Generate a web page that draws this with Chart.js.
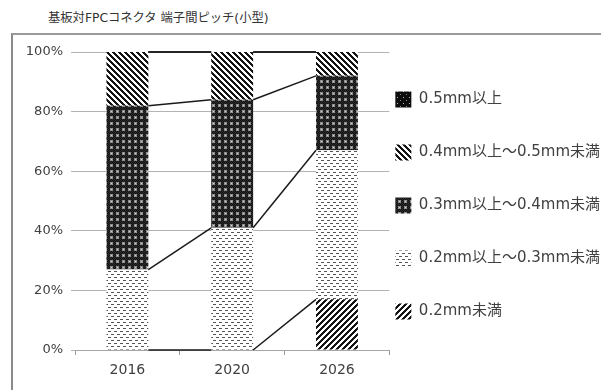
<!DOCTYPE html>
<html>
<head>
<meta charset="utf-8">
<script src="https://cdn.jsdelivr.net/npm/chart.js@4/dist/chart.umd.min.js"></script>
<style>
  html, body { margin: 0; padding: 0; background: #fff; overflow: hidden; }
  #wrap { position: relative; width: 601px; height: 390px; }
  #frame { position: absolute; left: 11px; top: 33px; width: 620px; height: 400px;
           border-left: 2px solid #8a8a8a; border-top: 2px solid #9a9a9a; }
  #title { position: absolute; left: 48px; top: 8px; font: 12.3px "DejaVu Sans", "Noto Sans CJK JP", sans-serif; color: #333; }
  canvas { position: absolute; left: 0; top: 0; }
</style>
</head>
<body>
<div id="wrap">
  <div id="frame"></div>
  <div id="title">基板対FPCコネクタ 端子間ピッチ(小型)</div>
  <canvas id="c" width="601" height="390"></canvas>
</div>
<script>
// data (percent share per year)
const years = ['2016', '2020', '2026'];
const seriesNames = ['0.2mm未満', '0.2mm以上～0.3mm未満', '0.3mm以上～0.4mm未満', '0.4mm以上～0.5mm未満', '0.5mm以上'];
const under02 = [0, 0, 17];
const from02to03 = [27, 41, 50];
const from03to04 = [55, 43, 25];
const from04to05 = [18, 16, 8];
const over05 = [0, 0, 0];
const yTicks = [0, 20, 40, 60, 80, 100];

const ctx = document.getElementById('c').getContext('2d');

function tile(w, h, draw) {
  const c = document.createElement('canvas');
  c.width = w; c.height = h;
  const g = c.getContext('2d');
  draw(g);
  return ctx.createPattern(c, 'repeat');
}
function px(g, x, y, col) { g.fillStyle = col; g.fillRect(x, y, 1, 1); }

// "///"
const patUp = tile(6, 6, g => {
  g.fillStyle = '#fff'; g.fillRect(0, 0, 6, 6);
  for (let y = 0; y < 6; y++) for (let x = 0; x < 6; x++)
    if ((x + y) % 6 < 3) px(g, x, y, '#141414');
});
// light dashes
const patDash = tile(6, 6, g => {
  g.fillStyle = '#fff'; g.fillRect(0, 0, 6, 6);
  g.fillStyle = '#555';
  g.fillRect(0, 1, 3, 1);
  g.fillRect(3, 4, 3, 1);
});
// dark with light dots
const patDots = tile(6, 6, g => {
  g.fillStyle = '#2e2e2e'; g.fillRect(0, 0, 6, 6);
  for (let y = 0; y < 6; y++) for (let x = 0; x < 6; x++)
    if ((x + y) % 2 === 0) px(g, x, y, '#111');
  g.fillStyle = '#8d8d8d'; g.fillRect(2, 2, 3, 3);
  px(g, 3, 3, '#d0d0d0');
});
// "\\\"
const patDown = tile(6, 6, g => {
  g.fillStyle = '#fff'; g.fillRect(0, 0, 6, 6);
  for (let y = 0; y < 6; y++) for (let x = 0; x < 6; x++)
    if (((x - y) % 6 + 6) % 6 < 3) px(g, x, y, '#141414');
});
// black, sparse white dots
const patBlack = tile(6, 6, g => {
  g.fillStyle = '#0c0c0c'; g.fillRect(0, 0, 6, 6);
  px(g, 1, 1, '#bbb'); px(g, 4, 4, '#888');
});

const values = [under02, from02to03, from03to04, from04to05, over05];
const fills = [patUp, patDash, patDots, patDown, patBlack];

// Excel style series lines between stacked bars
const seriesLines = {
  id: 'seriesLines',
  afterDatasetsDraw(chart) {
    const y = chart.scales.y;
    const c = chart.ctx;
    c.save();
    c.strokeStyle = '#1a1a1a';
    c.lineWidth = 1.5;
    const cum = years.map(() => 0);
    values.forEach((arr, d) => {
      arr.forEach((v, i) => { cum[i] += v; });
      const bars = chart.getDatasetMeta(d).data;
      for (let i = 0; i < years.length - 1; i++) {
        const a = bars[i], b = bars[i + 1];
        c.beginPath();
        c.moveTo(a.x + a.width / 2, y.getPixelForValue(cum[i]));
        c.lineTo(b.x - b.width / 2, y.getPixelForValue(cum[i + 1]));
        c.stroke();
      }
    });
    c.restore();
  }
};

const family = '"DejaVu Sans", "Noto Sans CJK JP", sans-serif';

function draw() {
  new Chart(ctx, {
    type: 'bar',
    data: {
      labels: years,
      datasets: seriesNames.map((name, i) => ({
        label: name,
        data: values[i],
        backgroundColor: fills[i],
        borderWidth: 0,
        categoryPercentage: 1,
        barPercentage: 0.4
      }))
    },
    options: {
      responsive: false,
      animation: false,
      layout: { padding: { top: 52, bottom: 0, left: 0, right: -9 } },
      plugins: {
        title: { display: false },
        tooltip: { enabled: false },
        legend: {
          position: 'right',
          reverse: true,
          maxWidth: 260,
          labels: {
            boxWidth: 16,
            boxHeight: 16,
            padding: 6,
            color: '#404040',
            font: { family, size: 15, lineHeight: 47 / 15 },
            generateLabels(chart) {
              return Chart.defaults.plugins.legend.labels.generateLabels(chart)
                .map(l => ({ ...l, text: [l.text], lineWidth: 0 }));
            }
          }
        }
      },
      scales: {
        x: {
          stacked: true,
          offset: true,
          grid: { drawOnChartArea: false, drawTicks: true, tickLength: 5, color: '#999', offset: true },
          border: { display: true, color: '#a6a6a6' },
          ticks: { color: '#404040', font: { family, size: 14 }, padding: 7 },
          afterFit(s) { s.height = 40; }
        },
        y: {
          stacked: true,
          min: 0,
          max: 100,
          afterBuildTicks(s) { s.ticks = yTicks.map(v => ({ value: v })); },
          grid: { color: '#b3b3b3', tickLength: 4 },
          border: { display: false },
          ticks: { color: '#404040', font: { family, size: 13 }, padding: 8, callback: v => v + '%' },
          afterFit(s) { s.width = 75; }
        }
      }
    },
    plugins: [seriesLines]
  });
}

Promise.all([
  document.fonts.load('15px "Noto Sans CJK JP"', '以上～未満'),
  document.fonts.load('15px "DejaVu Sans"', '0.4mm')
]).then(draw, draw);
</script>
</body>
</html>
